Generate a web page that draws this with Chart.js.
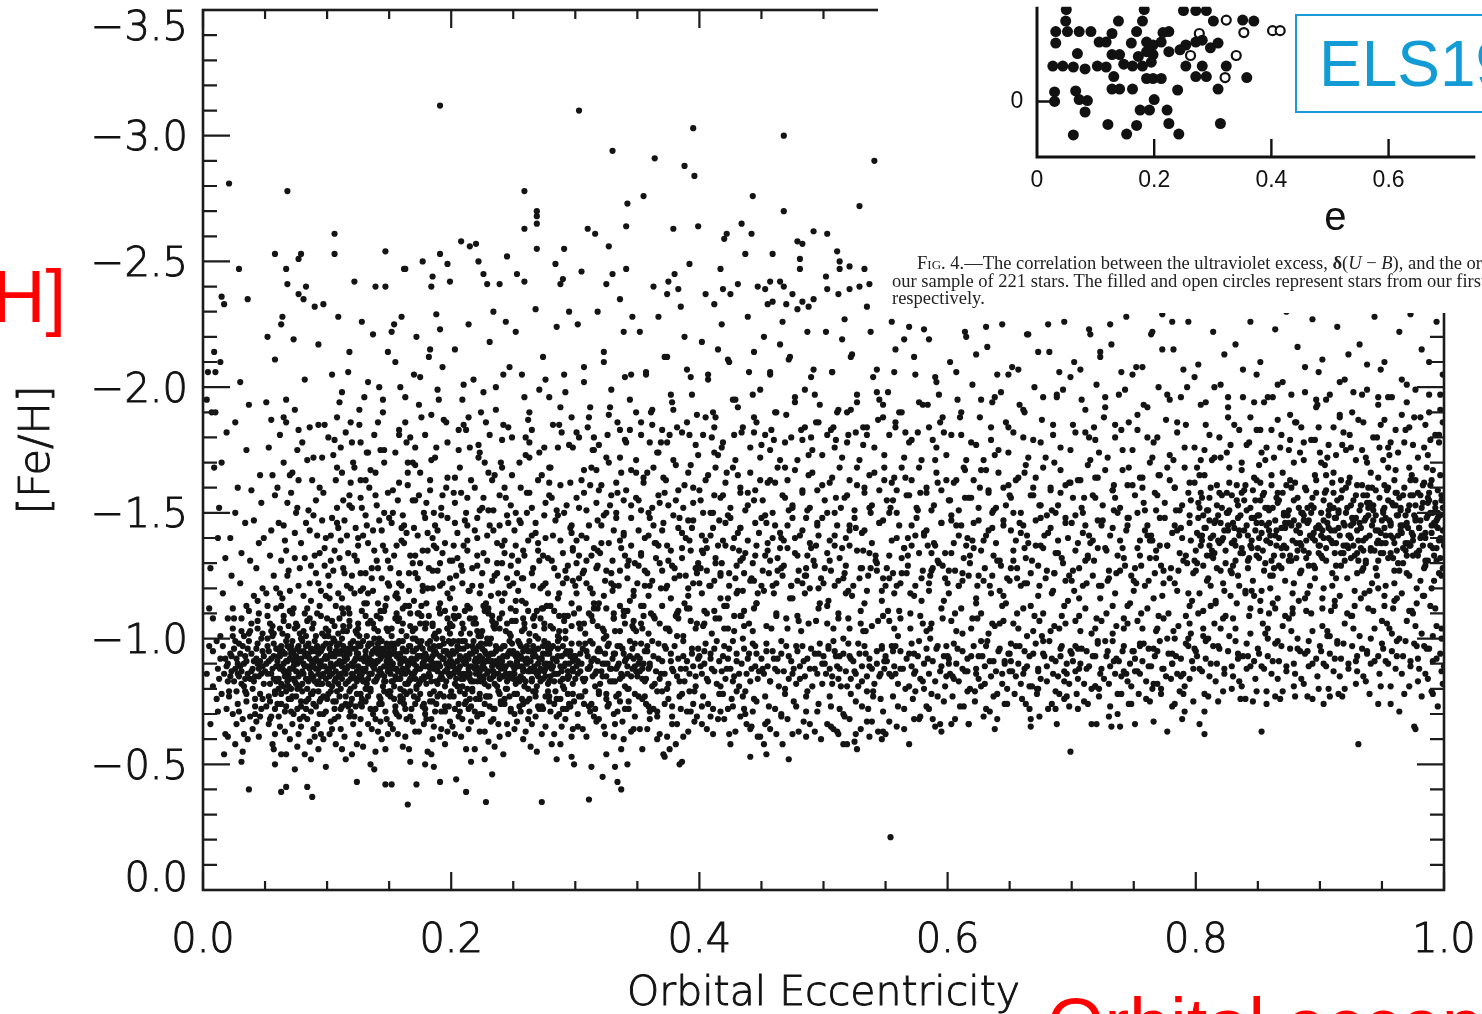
<!DOCTYPE html>
<html>
<head>
<meta charset="utf-8">
<script src="https://cdn.jsdelivr.net/npm/chart.js"></script>
<style>
html, body { margin: 0; padding: 0; background: #fff; }
body { width: 1482px; height: 1014px; overflow: hidden; position: relative; font-family: "Liberation Sans", Arial, sans-serif; }
#main { position: absolute; left: 0; top: 0; }
#inset { position: absolute; left: 878px; top: 0; width: 604px; height: 313px; background: #fff; overflow: hidden; }
#insetChart { position: absolute; left: 0; top: 0; }
.cap { position: absolute; white-space: nowrap; font: 18.5px "Liberation Serif", "Times New Roman", serif; line-height: 18px; color: #222; }
.els { position: absolute; left: 417px; top: 14px; width: 260px; height: 95px; border: 2px solid #1a9ad6; color: #139bd5;
       font: 64px "Liberation Sans", Arial, sans-serif; line-height: 97px; padding-left: 22px; white-space: nowrap; }
.red { position: absolute; color: #ff0000; font: 74px "Liberation Sans", Arial, sans-serif; line-height: 74px; white-space: nowrap; }
</style>
</head>
<body>
<canvas id="main" width="1482" height="1014"></canvas>
<div id="inset">
  <canvas id="insetChart" width="604" height="313"></canvas>
  <div class="els">ELS1962</div>
  <div class="cap" style="left:39px;top:254px">F<span style="font-variant:small-caps">ig</span>. 4.—The correlation between the ultraviolet excess, <b>δ</b>(<i>U</i> − <i>B</i>), and the orbital eccentricity, <i>e</i>, for</div>
  <div class="cap" style="left:14px;top:272px">our sample of 221 stars. The filled and open circles represent stars from our first and second lists,</div>
  <div class="cap" style="left:14px;top:289px">respectively.</div>
</div>
<div class="red" style="right:1416px;top:260px">[Fe/H]</div>
<div class="red" style="left:1047px;top:988px">Orbital eccentricity</div>

<script>
// main sample: [eccentricity x1000, [Fe/H] x100]
const stars = [
// e 0.00-0.05
[21,-281],[15,-236],[17,-233],[36,-235],[29,-247],[9,-214],[4,-206],[10,-206],[14,-210],[30,-202],[3,-195],[7,-190],[10,-190],[26,-186],[37,-40],[17,-54],[31,-51],[32,-55],[18,-62],[20,-61],[36,-60],[45,-61],
[12,-88],[18,-92],[22,-85],[25,-96],[28,-90],[31,-87],[34,-93],[38,-84],[41,-91],[44,-98],[47,-86],[27,-79],[33,-101],[39,-106],[46,-78],[14,-101],[20,-108],[8,-95],[42,-73],[35,-75],[24,-70],[16,-118],[30,-122],[44,-115],[6,-128],[38,-131],[22,-140],[13,-152],[41,-147],[28,-160],[9,-168],[35,-175],[19,-182],[46,-165],[5,-112],[11,-76],[48,-102],[32,-68],[40,-64],[26,-58],[6,-66],[43,-128],[15,-170],[37,-193],[49,-140],[24,-112],[8,-81],
[13,-84],[16,-97],[19,-89],[21,-79],[23,-93],[26,-88],[29,-98],[31,-82],[33,-90],[36,-96],[39,-87],[40,-80],[43,-92],[45,-88],[48,-95],[14,-92],[24,-101],[34,-84],[44,-104],[20,-83],[28,-86],[37,-99],[46,-91],[11,-99],[17,-86],[30,-94],[42,-85],[49,-82],[25,-108],[35,-113],[15,-78],[47,-72],[38,-69],[27,-66],[19,-72],[12,-71],[43,-67],[33,-62],[23,-125],[31,-134],[45,-138],[48,-120],[12,-140],[26,-150],[39,-159],[18,-132],[47,-154],[34,-146],[8,-108],[3,-86],[5,-97],[41,-117],
// e 0.05-0.10
[64,-228],[63,-225],[52,-220],[73,-219],[58,-211],[93,-217],[68,-278],[58,-253],[79,-253],[77,-251],[67,-247],[68,-241],[83,-240],[77,-237],[81,-235],[90,-232],[97,-233],[82,-203],[51,-194],[67,-195],[74,-191],[65,-188],[67,-186],[55,-187],[77,-183],[98,-185],[93,-185],[63,-39],[67,-41],[84,-41],[88,-37],[58,-50],[99,-49],[63,-54],[67,-54],[82,-54],[93,-56],[56,-58],[76,-57],[90,-61],[97,-60],
[52,-86],[55,-92],[57,-98],[59,-83],[61,-89],[62,-95],[64,-102],[66,-87],[68,-91],[70,-84],[71,-97],[73,-89],[75,-93],[76,-80],[78,-86],[80,-99],[81,-90],[83,-84],[85,-94],[86,-88],[88,-78],[90,-91],[91,-101],[93,-86],[95,-95],[96,-82],[98,-89],[53,-77],[60,-74],[69,-76],[79,-73],[87,-71],[94,-75],[56,-105],[65,-109],[74,-104],[84,-107],[92,-110],[99,-104],
[54,-68],[62,-65],[72,-66],[81,-69],[89,-64],[97,-70],[58,-62],[77,-62],[86,-59],
[51,-118],[57,-125],[63,-131],[70,-119],[78,-128],[86,-122],[94,-134],[99,-117],[55,-143],[66,-139],[75,-150],[83,-146],[91,-155],[60,-160],[72,-166],[88,-163],[96,-172],[53,-176],[80,-178],[68,-154],[92,-141],
[51,-90],[53,-95],[54,-82],[56,-88],[57,-93],[58,-79],[60,-91],[61,-84],[63,-97],[64,-88],[65,-81],[66,-94],[67,-99],[69,-86],[70,-92],[71,-80],[72,-88],[73,-95],[74,-83],[76,-90],[77,-97],[78,-81],[79,-92],[80,-87],[82,-94],[83,-101],[84,-89],[85,-83],[87,-96],[88,-91],[89,-85],[90,-99],[91,-88],[92,-82],[93,-94],[94,-90],[95,-85],[97,-97],[98,-92],[99,-84],[52,-100],[55,-103],[59,-96],[62,-104],[68,-101],[75,-106],[81,-103],[86,-108],[91,-95],[96,-102],[54,-75],[58,-72],[63,-78],[67,-73],[71,-76],[76,-72],[80,-79],[85,-76],[89,-74],[93,-79],[97,-77],[53,-66],[61,-69],[66,-63],[73,-70],[79,-65],[84,-68],[92,-66],[95,-62],[57,-56],[70,-60],[87,-52],[74,-48],
[52,-113],[59,-120],[64,-116],[69,-127],[73,-112],[77,-121],[82,-132],[87,-115],[91,-126],[95,-119],[98,-129],[54,-133],[61,-146],[67,-135],[74,-142],[79,-138],[85,-151],[90,-133],[96,-147],[58,-157],[65,-170],[71,-158],[77,-163],[84,-171],[89,-149],[94,-160],[62,-181],[76,-175],[86,-184],[56,-165],[99,-140],
// e 0.10-0.15
[109,-228],[128,-226],[106,-261],[147,-254],[106,-253],[122,-242],[139,-240],[147,-240],[124,-43],[120,-54],[135,-50],[147,-56],[102,-62],[147,-42],
[104,-205],[112,-198],[118,-214],[126,-191],[133,-202],[141,-186],[145,-195],[115,-182],[137,-221],[108,-188],[149,-214],[121,-170],
[101,-125],[104,-148],[107,-163],[110,-132],[113,-155],[116,-141],[119,-120],[122,-168],[125,-137],[128,-152],[131,-126],[134,-160],[137,-143],[140,-131],[143,-175],[146,-150],[149,-122],[111,-176],[127,-178],[139,-166],[118,-157],[132,-145],
[101,-88],[103,-94],[104,-81],[106,-99],[108,-90],[109,-85],[111,-95],[113,-103],[114,-87],[116,-92],[118,-79],[119,-98],[121,-89],[123,-84],[124,-94],[126,-101],[128,-88],[129,-92],[131,-80],[133,-97],[134,-86],[136,-91],[138,-104],[139,-83],[141,-94],[143,-88],[144,-99],[146,-85],[148,-91],[149,-78],[105,-75],[112,-73],[120,-76],[127,-74],[135,-72],[142,-77],[110,-108],[117,-112],[125,-106],[132,-114],[140,-109],[147,-113],[102,-116],[122,-118],[137,-119],
[103,-67],[111,-64],[118,-69],[126,-62],[133,-66],[141,-63],[148,-68],[107,-58],[129,-57],[144,-60],[115,-52],[138,-48],
[100,-92],[102,-85],[103,-98],[105,-89],[106,-83],[107,-95],[108,-79],[110,-91],[111,-86],[112,-100],[114,-93],[115,-82],[116,-88],[117,-96],[119,-84],[120,-90],[121,-99],[122,-81],[124,-87],[125,-94],[126,-85],[127,-97],[129,-83],[130,-91],[131,-88],[132,-101],[134,-92],[135,-80],[136,-86],[137,-95],[139,-90],[140,-84],[141,-98],[142,-87],[144,-93],[145,-81],[146,-96],[147,-89],[149,-94],[101,-103],[104,-107],[109,-102],[113,-110],[118,-105],[123,-103],[128,-111],[133,-106],[138,-100],[143,-108],[148,-104],[101,-78],[106,-72],[110,-77],[115,-74],[119,-71],[124,-78],[128,-73],[133,-77],[137,-70],[142,-74],[146,-79],[104,-64],[109,-69],[114,-61],[121,-66],[127,-68],[136,-64],[143,-67],[149,-62],[112,-56],[124,-58],[139,-55],
[102,-121],[106,-135],[109,-118],[113,-128],[117,-134],[120,-125],[124,-131],[129,-120],[133,-138],[136,-124],[141,-128],[145,-137],[148,-116],[103,-141],[108,-152],[114,-147],[119,-162],[123,-144],[127,-156],[131,-149],[135,-167],[140,-153],[144,-143],[149,-158],[105,-173],[112,-166],[120,-178],[126,-185],[133,-174],[138,-181],[146,-170],[110,-194],[130,-196],[142,-200],[117,-206],[101,-180],
// e 0.15-0.20
[191,-312],[152,-222],[154,-225],[160,-228],[172,-220],[188,-229],[191,-223],[177,-250],[162,-247],[163,-247],[184,-240],[185,-244],[199,-242],[191,-253],[197,-249],[165,-34],[152,-42],[172,-42],[191,-43],[167,-51],[179,-50],[186,-49],
[155,-210],[163,-196],[170,-205],[176,-188],[182,-212],[189,-199],[196,-186],[158,-183],[174,-193],[193,-208],[167,-180],
[151,-128],[153,-150],[156,-137],[158,-162],[160,-121],[162,-145],[165,-170],[167,-133],[169,-155],[171,-126],[173,-141],[175,-166],[177,-121],[179,-148],[181,-135],[183,-159],[185,-127],[187,-172],[189,-143],[191,-130],[193,-157],[195,-138],[197,-164],[199,-124],[164,-178],[186,-150],[157,-116],[176,-113],
[150,-89],[152,-94],[153,-83],[155,-98],[156,-88],[158,-92],[159,-80],[161,-96],[163,-86],[164,-101],[166,-90],[168,-84],[169,-95],[171,-87],[173,-99],[174,-82],[176,-93],[178,-89],[179,-104],[181,-85],[183,-96],[184,-91],[186,-79],[188,-100],[189,-87],[191,-93],[193,-84],[194,-98],[196,-90],[198,-86],[199,-102],[154,-76],[162,-74],[170,-77],[177,-73],[185,-75],[192,-71],[157,-107],[167,-110],[175,-106],[182,-109],[190,-112],[197,-108],[160,-103],[187,-95],[172,-92],[165,-82],
[151,-66],[157,-62],[164,-68],[171,-63],[178,-66],[185,-60],[192,-64],[199,-67],[161,-57],[181,-55],[195,-58],
[150,-93],[151,-86],[152,-98],[153,-90],[154,-81],[155,-94],[157,-87],[158,-99],[159,-84],[160,-91],[161,-88],[162,-79],[163,-95],[165,-89],[166,-83],[167,-97],[168,-92],[170,-86],[171,-100],[172,-81],[173,-93],[175,-88],[176,-84],[177,-96],[178,-91],[180,-82],[181,-98],[182,-89],[183,-85],[185,-93],[186,-88],[187,-102],[188,-83],[190,-90],[191,-97],[192,-86],[193,-92],[195,-81],[196,-95],[197,-88],[198,-99],[199,-91],[152,-104],[156,-110],[161,-106],[166,-113],[171,-104],[176,-109],[180,-114],[185,-106],[190,-103],[195,-111],[199,-106],[151,-77],[155,-71],[159,-75],[164,-78],[168,-72],[173,-76],[179,-70],[183,-78],[188,-74],[194,-77],[198,-73],[153,-64],[158,-69],[163,-61],[169,-67],[174,-63],[180,-68],[186,-65],[191,-61],[197,-63],[166,-56],[184,-54],
[150,-121],[154,-133],[158,-126],[162,-138],[166,-119],[169,-130],[173,-124],[177,-135],[181,-120],[185,-140],[189,-127],[193,-134],[197,-118],[152,-146],[157,-155],[161,-149],[165,-161],[170,-144],[174,-157],[178,-150],[183,-163],[187,-145],[192,-152],[196,-160],[155,-174],[163,-186],[171,-169],[179,-181],[188,-176],[194,-187],[159,-200],[175,-204],[190,-195],[183,-215],
// e 0.20-0.25
[208,-258],[215,-256],[220,-257],[222,-250],[226,-245],[229,-241],[239,-241],[245,-252],[204,-44],[212,-39],[228,-35],[233,-46],[216,-51],[227,-52],
[203,-215],[209,-195],[214,-225],[218,-203],[224,-190],[231,-218],[236,-200],[242,-185],[247,-208],[206,-183],[234,-230],[244,-226],
[201,-131],[203,-154],[205,-142],[207,-168],[209,-122],[211,-147],[213,-135],[215,-176],[217,-128],[219,-160],[221,-140],[223,-118],[225,-152],[227,-170],[229,-131],[231,-145],[233,-163],[235,-125],[237,-138],[239,-157],[241,-179],[243,-134],[245,-149],[247,-121],[249,-165],[212,-183],[228,-186],[238,-118],
[200,-91],[202,-86],[204,-95],[205,-81],[207,-89],[209,-99],[210,-84],[212,-93],[214,-88],[215,-102],[217,-79],[219,-91],[220,-86],[222,-97],[224,-83],[225,-92],[227,-88],[229,-100],[230,-81],[232,-94],[234,-87],[235,-104],[237,-90],[239,-84],[240,-96],[242,-89],[244,-80],[245,-93],[247,-86],[249,-98],[206,-74],[214,-72],[223,-76],[231,-73],[240,-75],[248,-71],[203,-108],[211,-111],[218,-106],[226,-113],[233,-109],[241,-115],[249,-107],
[201,-65],[208,-61],[216,-67],[223,-63],[230,-59],[238,-66],[246,-62],[219,-56],[242,-54],
[200,-86],[201,-95],[202,-90],[203,-82],[205,-97],[206,-88],[207,-93],[208,-84],[210,-91],[211,-99],[212,-86],[213,-80],[215,-94],[216,-89],[217,-97],[218,-83],[220,-92],[221,-88],[222,-101],[223,-85],[225,-96],[226,-90],[227,-82],[228,-94],[230,-87],[231,-98],[232,-84],[233,-91],[235,-86],[236,-95],[237,-81],[238,-89],[240,-92],[241,-85],[242,-97],[243,-88],[245,-83],[246,-94],[247,-90],[248,-101],[249,-86],[201,-105],[206,-109],[210,-104],[215,-112],[220,-106],[225,-103],[230,-110],[234,-105],[239,-108],[244,-103],[248,-112],[202,-77],[207,-71],[211,-78],[216,-73],[220,-76],[225,-70],[229,-77],[234,-72],[238,-79],[243,-74],[247,-77],[203,-62],[209,-68],[214,-64],[221,-69],[227,-63],[232,-67],[239,-61],[245,-66],[212,-56],[235,-57],
[201,-120],[205,-132],[209,-127],[213,-139],[217,-121],[221,-133],[225,-126],[229,-141],[233,-123],[237,-130],[241,-137],[245,-124],[249,-133],[203,-146],[208,-158],[212,-150],[216,-163],[221,-148],[226,-156],[230,-166],[234,-151],[239,-145],[243,-160],[248,-153],[206,-175],[214,-188],[222,-172],[231,-181],[240,-170],[246,-184],[210,-201],[226,-198],[242,-205],
// e 0.25-0.30
[259,-278],[269,-268],[269,-270],[269,-265],[259,-263],[291,-255],[269,-255],[253,-245],[284,-249],[259,-242],[288,-241],[290,-243],[273,-35],[297,-53],[299,-50],
[252,-222],[257,-205],[263,-190],[268,-231],[274,-212],[279,-196],[285,-224],[291,-205],[297,-188],[260,-180],[282,-185],[295,-230],[271,-199],
[251,-143],[253,-126],[256,-160],[258,-135],[261,-150],[263,-172],[266,-121],[268,-146],[271,-131],[273,-165],[276,-140],[278,-118],[281,-156],[283,-128],[286,-176],[288,-139],[291,-150],[293,-124],[296,-162],[298,-135],[265,-183],[289,-182],[274,-112],[260,-114],
[250,-89],[252,-93],[254,-84],[256,-97],[258,-88],[260,-91],[262,-80],[264,-95],[266,-87],[268,-101],[270,-90],[272,-83],[274,-94],[276,-88],[278,-98],[280,-85],[282,-92],[284,-79],[286,-96],[288,-89],[290,-84],[292,-100],[294,-87],[296,-93],[298,-82],[255,-73],[263,-76],[271,-72],[279,-75],[287,-70],[295,-74],[259,-106],[267,-109],[275,-104],[283,-111],[291,-107],[299,-110],
[251,-64],[258,-60],[265,-66],[273,-62],[281,-58],[289,-65],[297,-61],[269,-55],[285,-52],
[250,-94],[251,-86],[253,-91],[254,-99],[255,-83],[257,-89],[258,-95],[259,-81],[261,-92],[262,-87],[263,-99],[265,-84],[266,-93],[267,-89],[269,-81],[270,-96],[271,-87],[273,-92],[274,-84],[275,-99],[277,-90],[278,-82],[279,-94],[281,-88],[282,-97],[283,-83],[285,-91],[286,-86],[287,-100],[289,-93],[290,-81],[291,-89],[293,-95],[294,-84],[295,-90],[297,-98],[298,-87],[299,-93],[252,-107],[257,-103],[262,-111],[267,-105],[272,-108],[277,-113],[282,-104],[287,-109],[292,-103],[297,-114],[251,-78],[256,-71],[261,-75],[266,-79],[270,-73],[276,-77],[280,-71],[285,-76],[290,-72],[294,-78],[299,-75],[253,-67],[260,-63],[268,-69],[276,-65],[283,-62],[292,-68],[298,-64],[264,-57],[288,-58],
[250,-122],[254,-131],[258,-124],[262,-139],[266,-128],[270,-135],[274,-121],[278,-132],[282,-141],[286,-125],[290,-134],[294,-129],[298,-123],[252,-150],[256,-146],[261,-158],[265,-152],[270,-163],[275,-149],[279,-157],[284,-147],[288,-161],[293,-153],[297,-145],[255,-170],[263,-178],[271,-174],[280,-168],[287,-185],[295,-177],[259,-196],[276,-203],[292,-198],
// e 0.30-0.35
[303,-310],[330,-294],[327,-256],[310,-263],[316,-261],[341,-264],[342,-273],[330,-245],[341,-247],[305,-246],[325,-241],[311,-36],[322,-45],[334,-43],[337,-40],[332,-49],[342,-50],[313,-49],[325,-54],[337,-56],
[302,-225],[307,-208],[312,-192],[318,-230],[323,-214],[329,-199],[334,-186],[339,-222],[345,-205],[349,-190],[315,-180],[336,-235],[346,-228],
[301,-130],[303,-152],[305,-141],[307,-167],[309,-122],[311,-145],[313,-133],[315,-175],[317,-128],[319,-159],[321,-138],[323,-117],[325,-150],[327,-170],[329,-126],[331,-143],[333,-162],[335,-121],[337,-136],[339,-155],[341,-178],[343,-131],[345,-148],[347,-119],[349,-166],[310,-184],[326,-181],[344,-183],[318,-112],[336,-113],
[301,-89],[304,-94],[306,-84],[308,-98],[311,-88],[313,-91],[316,-81],[318,-95],[321,-87],[323,-100],[326,-90],[328,-83],[331,-94],[333,-88],[336,-97],[338,-85],[341,-92],[343,-80],[346,-96],[348,-89],[307,-74],[316,-72],[325,-76],[334,-71],[343,-75],[303,-106],[313,-109],[322,-104],[331,-110],[340,-106],[349,-103],
[302,-65],[309,-61],[317,-67],[324,-62],[332,-66],[339,-60],[347,-64],
[300,-93],[302,-86],[303,-98],[305,-90],[307,-83],[309,-95],[310,-88],[312,-99],[314,-85],[315,-92],[317,-87],[319,-96],[320,-82],[322,-90],[324,-94],[325,-85],[327,-98],[329,-88],[330,-92],[332,-83],[334,-97],[335,-90],[337,-86],[339,-94],[340,-81],[342,-89],[344,-99],[345,-85],[347,-92],[349,-87],[304,-104],[311,-110],[318,-105],[325,-112],[332,-103],[339,-109],[346,-105],[305,-77],[312,-71],[319,-78],[326,-73],[333,-77],[340,-72],[348,-78],[306,-64],[315,-69],[323,-65],[331,-61],[338,-67],[345,-63],
[300,-121],[303,-133],[306,-126],[309,-140],[312,-120],[315,-136],[318,-129],[321,-145],[324,-123],[327,-138],[330,-131],[333,-148],[336,-127],[339,-142],[342,-124],[345,-137],[348,-130],[301,-156],[305,-163],[309,-151],[313,-168],[317,-154],[321,-161],[325,-172],[329,-157],[333,-150],[337,-166],[341,-159],[345,-153],[349,-171],[303,-180],[311,-188],[319,-177],[328,-192],[336,-183],[344,-195],[307,-202],[323,-210],[340,-204],
// e 0.35-0.40
[364,-291],[388,-288],[396,-284],[395,-303],[355,-276],[379,-263],[399,-264],[392,-249],[363,-240],[374,-237],[375,-242],[380,-245],[383,-239],[386,-51],[372,-53],[376,-56],[366,-60],[354,-56],[371,-54],[384,-50],
[352,-222],[357,-206],[362,-191],[367,-228],[372,-212],[377,-197],[382,-184],[388,-220],[393,-204],[398,-189],[360,-178],[385,-232],[370,-183],
[351,-129],[353,-151],[356,-140],[358,-166],[360,-121],[363,-145],[365,-132],[367,-174],[370,-127],[372,-158],[374,-137],[377,-116],[379,-149],[381,-169],[384,-125],[386,-142],[388,-161],[391,-120],[393,-135],[395,-154],[397,-177],[399,-130],[362,-185],[376,-181],[390,-186],[355,-113],[382,-110],[368,-154],[394,-144],
[351,-90],[354,-84],[356,-95],[359,-88],[362,-99],[364,-82],[367,-92],[369,-86],[372,-97],[374,-80],[377,-91],[379,-87],[382,-101],[384,-83],[387,-93],[389,-88],[392,-79],[394,-96],[397,-85],[399,-92],[357,-74],[366,-71],[375,-76],[385,-72],[395,-74],[353,-106],[363,-109],[373,-104],[383,-111],[393,-107],
[352,-64],[360,-68],[368,-62],[378,-66],[387,-61],[396,-67],[381,-58],
[350,-93],[352,-87],[353,-98],[355,-90],[357,-84],[358,-95],[360,-89],[362,-81],[363,-93],[365,-87],[367,-98],[368,-84],[370,-91],[372,-86],[373,-96],[375,-82],[377,-94],[378,-88],[380,-97],[382,-85],[383,-92],[385,-88],[387,-99],[388,-83],[390,-91],[392,-86],[394,-94],[395,-89],[397,-81],[399,-96],[354,-104],[361,-110],[368,-106],[376,-103],[383,-108],[390,-112],[397,-104],[356,-77],[363,-72],[370,-79],[378,-73],[386,-78],[393,-71],[358,-64],[366,-69],[374,-61],[382,-66],[391,-63],[398,-69],
[350,-122],[353,-134],[356,-127],[359,-141],[362,-123],[365,-138],[368,-130],[371,-146],[374,-121],[377,-135],[380,-128],[383,-144],[386,-132],[389,-125],[392,-139],[395,-147],[398,-126],[351,-155],[355,-162],[359,-150],[363,-168],[367,-157],[371,-164],[375,-153],[379,-171],[383,-159],[387,-152],[391,-166],[395,-160],[399,-173],[353,-181],[361,-190],[369,-178],[378,-194],[386,-182],[394,-197],[357,-205],[374,-212],[390,-207],
// e 0.40-0.45
[405,-237],[412,-233],[419,-239],[425,-237],[417,-247],[422,-261],[420,-259],[434,-265],[442,-261],[443,-276],[437,-253],[447,-240],[441,-53],[452,-58],[441,-64],[449,-61],
[402,-218],[407,-203],[413,-188],[418,-225],[424,-210],[429,-195],[434,-182],[439,-228],[444,-214],[449,-199],[410,-180],[431,-241],[446,-186],
[401,-128],[403,-150],[405,-139],[407,-165],[409,-121],[411,-144],[413,-132],[415,-173],[417,-126],[419,-157],[421,-137],[423,-116],[425,-148],[427,-168],[429,-124],[431,-142],[433,-160],[435,-119],[437,-134],[439,-153],[441,-176],[443,-130],[445,-146],[447,-118],[449,-163],[412,-184],[428,-181],[444,-188],[406,-110],[420,-113],[436,-111],[416,-147],[432,-135],
[401,-89],[404,-95],[406,-84],[409,-92],[412,-87],[414,-99],[417,-81],[419,-93],[422,-88],[424,-96],[427,-83],[430,-91],[432,-86],[435,-100],[437,-79],[440,-94],[442,-88],[445,-97],[447,-84],[407,-74],[417,-71],[426,-76],[436,-72],[446,-75],[403,-105],[413,-108],[423,-104],[433,-109],[443,-103],
[402,-66],[411,-62],[420,-68],[429,-63],[438,-66],[447,-61],[425,-58],
[400,-93],[402,-86],[404,-90],[405,-98],[407,-83],[409,-94],[410,-88],[412,-96],[414,-82],[416,-91],[418,-87],[420,-97],[421,-84],[423,-92],[425,-88],[427,-99],[428,-85],[430,-94],[432,-81],[434,-90],[436,-96],[438,-86],[439,-92],[441,-83],[443,-98],[445,-89],[446,-94],[448,-87],[404,-106],[412,-111],[420,-104],[428,-109],[436,-105],[444,-112],[403,-77],[411,-72],[419,-78],[427,-73],[435,-77],[443,-71],[406,-64],[415,-68],[424,-62],[433,-69],[442,-65],
[400,-122],[403,-134],[406,-127],[409,-141],[412,-123],[415,-137],[418,-130],[421,-146],[424,-121],[427,-136],[430,-129],[433,-144],[436,-126],[439,-139],[442,-124],[445,-133],[448,-142],[401,-155],[405,-163],[409,-150],[413,-168],[417,-156],[421,-162],[425,-152],[429,-171],[433,-158],[437,-151],[441,-166],[445,-159],[449,-172],[403,-181],[411,-190],[419,-178],[427,-195],[435,-184],[443,-197],[407,-205],[423,-211],[440,-206],[415,-215],
// e 0.45-0.50
[468,-300],[468,-270],[492,-262],[479,-258],[483,-257],[459,-253],[481,-251],[481,-247],[483,-234],[492,-235],[479,-231],[488,-232],[459,-234],[470,-233],[455,-233],[465,-242],[468,-240],[457,-242],[453,-239],[472,-52],[454,-54],[486,-61],[455,-67],
[452,-220],[457,-205],[462,-190],[467,-226],[472,-211],[477,-196],[482,-183],[487,-222],[492,-207],[497,-193],[460,-179],[475,-237],[490,-180],[485,-199],
[451,-127],[453,-149],[455,-138],[457,-163],[459,-121],[461,-145],[463,-132],[465,-171],[467,-125],[469,-156],[471,-136],[473,-116],[475,-148],[477,-167],[479,-123],[481,-141],[483,-159],[485,-118],[487,-133],[489,-152],[491,-175],[493,-129],[495,-145],[497,-114],[499,-161],[458,-183],[474,-180],[494,-186],[462,-109],[480,-107],[466,-140],[486,-128],
[451,-88],[454,-95],[457,-83],[460,-92],[463,-87],[466,-99],[469,-80],[472,-93],[475,-86],[478,-97],[481,-84],[484,-91],[487,-79],[490,-96],[493,-88],[496,-94],[499,-82],[456,-73],[466,-70],[476,-75],[486,-71],[496,-74],[458,-104],[470,-108],[482,-103],[494,-107],
[453,-66],[462,-62],[471,-68],[480,-63],[489,-66],[498,-60],[467,-58],
[450,-92],[452,-86],[454,-98],[455,-89],[457,-83],[459,-95],[461,-88],[463,-92],[464,-81],[466,-94],[468,-87],[470,-97],[472,-84],[474,-91],[476,-88],[478,-82],[479,-95],[481,-89],[483,-97],[485,-85],[487,-92],[489,-88],[491,-81],[493,-94],[495,-86],[497,-98],[499,-90],[454,-105],[462,-110],[471,-104],[479,-109],[488,-106],[496,-112],[453,-77],[461,-72],[469,-78],[478,-73],[486,-77],[495,-71],[457,-64],[466,-69],[475,-62],[484,-67],[493,-63],
[450,-121],[453,-133],[456,-126],[459,-140],[462,-122],[465,-136],[468,-129],[471,-145],[474,-121],[477,-134],[480,-127],[483,-143],[486,-125],[489,-138],[492,-131],[495,-146],[498,-124],[451,-155],[455,-162],[459,-150],[463,-168],[467,-157],[471,-163],[475,-152],[479,-171],[483,-158],[487,-151],[491,-166],[495,-159],[499,-173],[453,-181],[461,-190],[469,-178],[477,-194],[485,-184],[493,-197],[457,-206],[473,-212],[490,-204],[465,-217],
// e 0.50-0.55
[502,-244],[503,-239],[512,-237],[521,-239],[529,-240],[537,-241],[503,-261],[511,-254],[513,-250],[513,-247],[521,-248],[533,-247],[541,-290],[529,-272],[525,-59],[519,-58],[537,-61],[547,-60],[550,-62],[511,-63],[506,-65],
[502,-222],[507,-206],[512,-191],[517,-227],[522,-212],[527,-197],[532,-184],[538,-222],[543,-207],[548,-193],[510,-179],[535,-232],[520,-181],
[501,-128],[503,-150],[505,-139],[507,-164],[509,-121],[511,-145],[513,-132],[515,-172],[517,-126],[519,-157],[521,-137],[523,-117],[525,-148],[527,-168],[529,-124],[531,-142],[533,-160],[535,-119],[537,-134],[539,-153],[541,-176],[543,-130],[545,-146],[547,-115],[549,-163],[508,-184],[526,-182],[544,-187],[512,-108],[530,-106],[518,-140],[538,-128],
[501,-90],[504,-96],[507,-85],[510,-93],[513,-88],[516,-100],[519,-81],[522,-92],[525,-87],[528,-98],[531,-83],[534,-94],[537,-89],[540,-79],[543,-95],[546,-86],[549,-91],[506,-73],[516,-70],[526,-75],[536,-72],[546,-76],[508,-104],[520,-108],[532,-103],[544,-107],
[503,-66],[512,-62],[521,-68],[530,-64],[539,-67],[548,-63],[516,-58],
[500,-93],[502,-86],[504,-97],[505,-88],[507,-82],[509,-95],[511,-89],[513,-93],[514,-81],[516,-94],[518,-87],[520,-98],[522,-84],[524,-91],[526,-86],[528,-81],[529,-94],[531,-89],[533,-97],[535,-85],[537,-92],[539,-88],[541,-82],[543,-90],[545,-85],[547,-97],[549,-88],[503,-106],[512,-110],[521,-104],[530,-111],[539,-105],[548,-109],[505,-77],[513,-72],[522,-78],[531,-73],[540,-77],[548,-71],[508,-64],[517,-69],[526,-62],[535,-67],[544,-63],[527,-56],
[500,-122],[503,-134],[506,-127],[509,-141],[512,-123],[515,-136],[518,-129],[521,-145],[524,-121],[527,-135],[530,-128],[533,-143],[536,-125],[539,-138],[542,-131],[545,-146],[548,-124],[501,-155],[505,-162],[509,-150],[513,-168],[517,-156],[521,-163],[525,-151],[529,-171],[533,-158],[537,-152],[541,-166],[545,-159],[549,-173],[503,-181],[511,-190],[519,-178],[527,-194],[535,-184],[543,-198],[507,-206],[523,-213],[540,-204],[515,-219],
// e 0.55-0.60
[554,-21],[569,-58],[573,-68],[588,-68],[594,-66],
[552,-198],[558,-215],[563,-190],[569,-224],[574,-205],[580,-193],[585,-219],[591,-202],[596,-188],[566,-182],[588,-179],[555,-226],
[551,-128],[553,-150],[555,-139],[557,-164],[559,-121],[561,-145],[563,-132],[565,-172],[567,-126],[569,-157],[571,-137],[573,-117],[575,-148],[577,-168],[579,-124],[581,-142],[583,-160],[585,-119],[587,-134],[589,-153],[591,-176],[593,-130],[595,-146],[597,-115],[599,-163],[558,-184],[576,-182],[594,-186],[562,-108],[580,-106],[568,-140],[588,-128],[556,-155],[584,-137],
[551,-91],[555,-85],[558,-97],[562,-88],[566,-80],[569,-94],[573,-86],[577,-99],[580,-83],[584,-92],[587,-78],[591,-96],[594,-87],[598,-81],[560,-73],[572,-76],[585,-72],[597,-75],[557,-104],[570,-110],[583,-103],[596,-108],
[553,-67],[565,-64],[578,-69],[590,-65],
[550,-93],[553,-86],[555,-97],[557,-89],[560,-82],[562,-95],[564,-88],[567,-92],[569,-81],[571,-98],[574,-87],[576,-93],[578,-84],[581,-90],[583,-96],[585,-86],[588,-91],[590,-83],[592,-97],[595,-89],[597,-93],[599,-85],[553,-107],[561,-111],[570,-104],[578,-109],[587,-106],[595,-112],[556,-77],[565,-72],[574,-79],[583,-73],[592,-77],[559,-65],[577,-68],[595,-63],
[550,-121],[553,-133],[556,-126],[559,-140],[562,-122],[565,-136],[568,-129],[571,-145],[574,-121],[577,-134],[580,-127],[583,-143],[586,-125],[589,-138],[592,-131],[595,-146],[598,-124],[551,-155],[555,-162],[559,-150],[563,-168],[567,-157],[571,-163],[575,-152],[579,-171],[583,-158],[587,-151],[591,-166],[595,-159],[599,-173],[553,-181],[561,-190],[569,-178],[577,-194],[585,-184],[593,-197],[557,-206],[573,-212],[590,-204],[565,-219],[581,-223],
// e 0.60-0.65
[603,-66],[617,-66],[640,-68],
[602,-210],[608,-195],[614,-222],[620,-201],[626,-188],[632,-216],[638,-196],[644,-225],[649,-205],[611,-181],[635,-179],[647,-186],
[601,-127],[603,-149],[605,-138],[607,-163],[609,-121],[611,-145],[613,-132],[615,-171],[617,-125],[619,-156],[621,-136],[623,-116],[625,-147],[627,-167],[629,-123],[631,-141],[633,-159],[635,-118],[637,-133],[639,-152],[641,-175],[643,-129],[645,-145],[647,-114],[649,-161],[606,-110],[624,-108],[642,-106],[616,-140],[636,-150],
[601,-90],[605,-84],[608,-96],[612,-88],[616,-79],[619,-93],[623,-86],[627,-99],[630,-82],[634,-91],[637,-77],[641,-95],[644,-86],[648,-80],[610,-73],[622,-75],[634,-71],[646,-74],[607,-103],[620,-108],[633,-102],[645,-107],
[606,-68],[629,-69],
[600,-93],[602,-86],[605,-98],[607,-90],[609,-83],[612,-95],[614,-87],[616,-92],[618,-80],[621,-97],[623,-88],[625,-84],[628,-93],[630,-89],[632,-99],[635,-85],[637,-91],[639,-87],[642,-96],[644,-82],[646,-90],[649,-94],[603,-107],[611,-112],[619,-104],[627,-110],[636,-106],[644,-113],[604,-77],[613,-73],[622,-79],[631,-72],[640,-78],[648,-74],[617,-66],[638,-64],
[600,-122],[603,-134],[606,-127],[609,-141],[612,-123],[615,-137],[618,-130],[621,-146],[624,-121],[627,-135],[630,-128],[633,-143],[636,-125],[639,-138],[642,-131],[645,-147],[648,-124],[601,-155],[605,-162],[609,-151],[613,-168],[617,-156],[621,-163],[625,-152],[629,-171],[633,-158],[637,-151],[641,-166],[645,-160],[649,-174],[603,-181],[611,-190],[619,-178],[627,-195],[635,-184],[643,-198],[607,-206],[623,-213],[640,-205],[615,-220],[631,-224],
// e 0.65-0.70
[667,-68],[674,-69],[666,-72],[687,-72],[694,-76],[699,-55],
[652,-208],[658,-193],[664,-221],[670,-200],[676,-187],[682,-214],[688,-197],[694,-226],[699,-204],[661,-180],[685,-181],
[651,-128],[653,-150],[655,-139],[657,-164],[659,-121],[661,-145],[663,-132],[665,-172],[667,-126],[669,-157],[671,-137],[673,-117],[675,-148],[677,-168],[679,-124],[681,-142],[683,-160],[685,-119],[687,-134],[689,-153],[691,-176],[693,-130],[695,-146],[697,-115],[699,-162],[656,-110],[674,-107],[692,-109],[664,-141],[684,-151],
[651,-91],[655,-85],[658,-97],[662,-88],[666,-81],[669,-94],[673,-87],[677,-99],[680,-83],[684,-92],[687,-79],[691,-96],[694,-87],[698,-82],[660,-76],[672,-78],[684,-74],[696,-77],[657,-104],[670,-109],[683,-103],[695,-106],
[650,-94],[652,-87],[655,-97],[657,-90],[659,-82],[662,-95],[664,-89],[666,-93],[668,-81],[671,-98],[673,-88],[675,-84],[678,-93],[680,-89],[682,-99],[685,-86],[687,-91],[689,-85],[692,-97],[694,-83],[696,-90],[699,-95],[653,-106],[661,-112],[669,-103],[677,-110],[686,-105],[694,-113],[654,-78],[663,-74],[672,-80],[681,-72],[690,-78],[698,-73],[667,-65],[688,-66],
[650,-123],[653,-135],[656,-128],[659,-142],[662,-122],[665,-138],[668,-131],[671,-147],[674,-121],[677,-136],[680,-127],[683,-144],[686,-126],[689,-139],[692,-132],[695,-148],[698,-125],[651,-156],[655,-163],[659,-150],[663,-169],[667,-157],[671,-164],[675,-153],[679,-172],[683,-159],[687,-150],[691,-167],[695,-161],[699,-175],[653,-182],[661,-191],[669,-179],[677,-196],[685,-185],[693,-199],[657,-207],[673,-214],[690,-206],[665,-221],[681,-225],
// e 0.70-0.75
[705,-72],[720,-66],[732,-65],[730,-69],[737,-70],
[702,-210],[708,-195],[714,-223],[720,-201],[726,-188],[732,-217],[738,-197],[744,-228],[749,-205],[711,-182],[735,-180],[723,-212],
[701,-127],[703,-149],[705,-138],[707,-163],[709,-121],[711,-145],[713,-132],[715,-171],[717,-125],[719,-156],[721,-136],[723,-116],[725,-147],[727,-167],[729,-123],[731,-141],[733,-159],[735,-118],[737,-133],[739,-152],[741,-175],[743,-129],[745,-145],[747,-114],[749,-161],[706,-109],[724,-107],[742,-108],[714,-141],[734,-151],[718,-184],[746,-186],
[701,-91],[705,-84],[708,-96],[712,-88],[716,-80],[719,-93],[723,-86],[727,-99],[730,-82],[734,-91],[737,-78],[741,-95],[744,-86],[748,-81],[710,-75],[722,-77],[746,-74],[707,-103],[720,-108],[733,-102],[745,-106],
[700,-94],[703,-87],[705,-96],[707,-90],[710,-82],[712,-95],[714,-89],[717,-93],[719,-81],[721,-98],[724,-88],[726,-84],[728,-93],[731,-89],[733,-99],[735,-86],[738,-91],[740,-85],[742,-97],[745,-83],[747,-90],[749,-95],[703,-107],[711,-112],[719,-104],[728,-110],[736,-105],[745,-113],[704,-78],[713,-74],[722,-80],[731,-73],[740,-78],[748,-74],[716,-66],[739,-65],
[700,-123],[703,-135],[706,-128],[709,-142],[712,-122],[715,-138],[718,-131],[721,-147],[724,-121],[727,-136],[730,-127],[733,-144],[736,-126],[739,-139],[742,-132],[745,-148],[748,-125],[701,-156],[705,-163],[709,-150],[713,-169],[717,-157],[721,-164],[725,-153],[729,-172],[733,-159],[737,-150],[741,-167],[745,-161],[749,-175],[703,-182],[711,-191],[719,-179],[727,-196],[735,-185],[743,-199],[707,-207],[723,-214],[740,-206],[715,-221],[731,-225],
// e 0.75-0.80
[751,-66],[777,-63],[791,-71],[791,-81],
[752,-208],[758,-193],[764,-221],[770,-200],[776,-187],[782,-215],[788,-196],[794,-226],[799,-204],[761,-180],[785,-182],[773,-229],
[751,-128],[753,-150],[755,-139],[757,-164],[759,-121],[761,-145],[763,-132],[765,-172],[767,-126],[769,-157],[771,-137],[773,-117],[775,-148],[777,-168],[779,-124],[781,-142],[783,-160],[785,-119],[787,-134],[789,-153],[791,-176],[793,-130],[795,-146],[797,-115],[799,-162],[756,-110],[774,-108],[792,-109],[764,-141],[784,-151],[768,-135],[796,-139],
[751,-92],[755,-86],[758,-98],[762,-89],[766,-82],[769,-95],[773,-88],[777,-100],[780,-84],[784,-93],[787,-79],[794,-97],[798,-88],[760,-76],[772,-78],[783,-74],[757,-104],[770,-109],[782,-103],[795,-106],
[750,-95],[753,-87],[755,-97],[757,-91],[760,-83],[762,-96],[764,-89],[767,-93],[769,-82],[771,-99],[774,-88],[776,-85],[778,-94],[781,-90],[783,-100],[785,-86],[788,-92],[790,-86],[792,-98],[795,-84],[797,-91],[799,-96],[753,-107],[761,-112],[769,-104],[778,-110],[786,-105],[795,-113],[754,-78],[763,-75],[772,-80],[781,-73],[790,-78],[798,-75],[766,-67],[789,-68],
[750,-123],[753,-136],[756,-129],[759,-143],[762,-123],[765,-139],[768,-132],[771,-148],[774,-122],[777,-137],[780,-128],[783,-145],[786,-127],[789,-140],[792,-133],[795,-149],[798,-126],[751,-157],[755,-164],[759,-151],[763,-170],[767,-158],[771,-165],[775,-154],[779,-173],[783,-160],[787,-151],[791,-168],[795,-162],[799,-176],[753,-183],[761,-192],[769,-180],[777,-197],[785,-186],[793,-200],[757,-208],[773,-215],[790,-207],[765,-222],[781,-226],
// e 0.80-0.85
[807,-62],[803,-66],[807,-71],[836,-76],
[802,-209],[808,-194],[814,-222],[820,-201],[826,-188],[832,-217],[838,-196],[844,-226],[849,-205],[811,-181],[835,-183],[823,-213],
[801,-130],[803,-152],[805,-141],[807,-165],[809,-123],[811,-147],[813,-135],[815,-172],[817,-128],[819,-158],[821,-139],[823,-119],[825,-150],[827,-168],[829,-126],[831,-144],[833,-161],[835,-121],[837,-136],[839,-155],[841,-177],[843,-132],[845,-148],[847,-117],[849,-163],[804,-158],[812,-140],[818,-149],[826,-143],[834,-153],[842,-141],[848,-155],[806,-111],[824,-109],[844,-112],
[801,-93],[805,-87],[808,-99],[812,-90],[816,-83],[819,-96],[823,-88],[827,-101],[830,-85],[834,-94],[837,-81],[841,-98],[844,-89],[848,-84],[810,-77],[822,-79],[846,-75],[815,-106],[832,-104],
[800,-135],[802,-148],[803,-141],[805,-156],[806,-129],[808,-144],[809,-151],[811,-137],[812,-160],[814,-132],[815,-146],[817,-153],[818,-139],[820,-127],[821,-157],[823,-143],[824,-135],[826,-150],[827,-162],[829,-138],[830,-146],[832,-131],[833,-155],[835,-141],[836,-149],[838,-134],[839,-159],[841,-145],[842,-128],[844,-152],[845,-139],[847,-164],[848,-143],[849,-133],[801,-168],[807,-175],[813,-171],[819,-180],[825,-174],[831,-185],[837,-170],[843,-178],[849,-183],[803,-118],[810,-124],[816,-115],[822,-122],[828,-117],[834,-125],[840,-119],[846,-123],[804,-193],[815,-200],[826,-196],[838,-207],[847,-194],
[800,-95],[803,-88],[806,-101],[808,-92],[811,-85],[814,-97],[817,-90],[820,-104],[823,-86],[826,-95],[829,-89],[832,-99],[835,-83],[838,-93],[841,-88],[844,-102],[847,-91],[802,-110],[812,-113],[822,-108],[833,-114],[843,-109],[807,-78],[818,-75],[829,-80],[840,-76],[849,-79],
// e 0.85-0.90
[853,-63],[857,-74],[864,-77],[880,-77],[894,-76],
[852,-210],[858,-196],[864,-223],[870,-202],[876,-189],[882,-216],[888,-198],[894,-227],[899,-206],[861,-183],[885,-184],[873,-230],[897,-192],
[851,-132],[853,-146],[855,-158],[857,-139],[859,-151],[861,-165],[863,-128],[865,-143],[867,-155],[869,-136],[871,-149],[873,-161],[875,-131],[877,-145],[879,-170],[881,-138],[883,-152],[885,-127],[887,-147],[889,-159],[891,-134],[893,-150],[895,-142],[897,-163],[899,-137],[856,-171],[868,-176],[884,-174],[896,-179],[860,-120],[878,-118],[892,-121],[866,-187],[852,-115],
[851,-94],[855,-88],[858,-100],[862,-91],[866,-84],[869,-97],[873,-89],[877,-103],[880,-86],[884,-95],[887,-82],[891,-99],[894,-90],[898,-85],[859,-110],[875,-108],[889,-111],[870,-79],
[850,-136],[851,-149],[853,-142],[854,-157],[856,-130],[857,-145],[858,-152],[860,-138],[861,-161],[863,-133],[864,-147],[866,-154],[867,-140],[869,-128],[870,-158],[872,-144],[873,-136],[875,-151],[876,-163],[878,-139],[879,-147],[881,-132],[882,-156],[884,-142],[885,-150],[887,-135],[888,-160],[890,-146],[891,-129],[893,-153],[894,-140],[896,-165],[897,-144],[899,-134],[852,-155],[859,-143],[865,-137],[871,-150],[877,-131],[883,-145],[889,-139],[895,-152],[851,-169],[857,-176],[863,-172],[869,-181],[875,-175],[881,-186],[887,-171],[893,-179],[899,-184],[853,-119],[860,-125],[866,-116],[872,-123],[878,-112],[884,-126],[890,-118],[896,-124],[855,-194],[866,-201],[877,-197],[888,-208],[897,-195],
[850,-96],[853,-89],[856,-102],[858,-93],[861,-86],[864,-98],[867,-91],[870,-105],[873,-87],[876,-96],[879,-90],[882,-100],[885,-84],[888,-94],[891,-89],[894,-103],[897,-92],[852,-111],[862,-114],[872,-109],[883,-115],[893,-110],[857,-79],[868,-76],[879,-81],[890,-77],[899,-80],
// e 0.90-0.95
[903,-74],[908,-77],[915,-78],[931,-58],[947,-74],
[902,-211],[908,-197],[914,-224],[920,-203],[926,-190],[932,-217],[938,-199],[944,-228],[949,-207],[911,-184],[935,-186],[923,-213],[947,-193],
[901,-133],[903,-147],[905,-159],[907,-140],[909,-152],[911,-166],[913,-129],[915,-144],[917,-156],[919,-137],[921,-150],[923,-162],[925,-132],[927,-146],[929,-171],[931,-139],[933,-153],[935,-128],[937,-148],[939,-160],[941,-135],[943,-151],[945,-143],[947,-164],[949,-138],[906,-172],[918,-177],[934,-175],[946,-180],[910,-121],[928,-119],[942,-122],[916,-188],[902,-116],[924,-141],[938,-157],[912,-148],[930,-134],
[901,-95],[905,-89],[908,-101],[912,-92],[916,-85],[919,-98],[923,-90],[927,-104],[930,-87],[934,-96],[937,-83],[941,-100],[944,-91],[948,-86],[909,-111],[925,-109],[939,-112],[920,-80],
[900,-137],[901,-150],[902,-143],[904,-158],[905,-131],[906,-146],[908,-153],[909,-139],[910,-162],[912,-134],[913,-148],[914,-155],[916,-141],[917,-129],[918,-159],[920,-145],[921,-137],[922,-152],[924,-164],[925,-140],[926,-148],[928,-133],[929,-157],[930,-143],[932,-151],[933,-136],[934,-161],[936,-147],[937,-130],[938,-154],[940,-141],[941,-166],[942,-145],[944,-135],[945,-149],[946,-138],[948,-156],[949,-142],[903,-140],[911,-152],[919,-134],[927,-147],[935,-139],[943,-153],[907,-144],[923,-136],[939,-149],[947,-131],[901,-170],[907,-177],[913,-173],[919,-182],[925,-176],[931,-187],[937,-172],[943,-180],[949,-185],[903,-120],[910,-126],[916,-117],[922,-124],[928,-113],[934,-127],[940,-119],[946,-125],[905,-195],[916,-202],[927,-198],[938,-209],[947,-196],
[900,-97],[903,-90],[906,-103],[908,-94],[911,-87],[914,-99],[917,-92],[920,-106],[923,-88],[926,-97],[929,-91],[932,-101],[935,-85],[938,-95],[941,-90],[944,-104],[947,-93],[902,-112],[912,-115],[922,-110],[933,-116],[943,-111],[907,-80],[918,-77],[929,-82],[940,-78],[949,-81],
// e 0.95-1.00
[957,-74],[964,-71],[976,-65],[977,-64],[982,-77],[991,-78],[995,-73],[1000,-89],
[952,-210],[958,-196],[964,-222],[970,-201],[976,-188],[982,-215],[988,-197],[994,-226],[999,-205],[961,-183],[985,-185],[973,-229],[997,-191],
[951,-134],[953,-148],[955,-160],[957,-141],[959,-153],[961,-167],[963,-130],[965,-145],[967,-157],[969,-138],[971,-151],[973,-163],[975,-133],[977,-147],[979,-172],[981,-140],[983,-154],[985,-129],[987,-149],[989,-161],[991,-136],[993,-152],[995,-144],[997,-165],[999,-139],[956,-173],[968,-178],[984,-176],[996,-181],[960,-122],[978,-120],[992,-123],[966,-189],[952,-117],[974,-142],[988,-158],[962,-149],[980,-135],[994,-131],[998,-155],[990,-145],[986,-168],[970,-126],
[951,-96],[955,-90],[958,-102],[962,-93],[966,-86],[969,-99],[973,-91],[977,-105],[980,-88],[984,-97],[987,-84],[991,-101],[994,-92],[998,-87],[959,-112],[975,-110],[989,-113],[972,-81],
[950,-138],[951,-151],[952,-144],[954,-159],[955,-132],[956,-147],[958,-154],[959,-140],[960,-163],[962,-135],[963,-149],[964,-156],[966,-142],[967,-130],[968,-160],[970,-146],[971,-138],[972,-153],[974,-165],[975,-141],[976,-149],[978,-134],[979,-158],[980,-144],[982,-152],[983,-137],[984,-162],[986,-148],[987,-131],[988,-155],[990,-142],[991,-167],[992,-146],[994,-136],[995,-150],[996,-139],[998,-157],[999,-143],[953,-141],[961,-153],[969,-135],[977,-148],[985,-140],[993,-154],[957,-145],[973,-137],[989,-150],[997,-132],[952,-161],[965,-143],[981,-157],[994,-147],[999,-128],[951,-171],[957,-178],[963,-174],[969,-183],[975,-177],[981,-188],[987,-173],[993,-181],[999,-186],[953,-121],[960,-127],[966,-118],[972,-125],[978,-114],[984,-128],[990,-120],[996,-126],[955,-196],[966,-203],[977,-199],[988,-210],[997,-197],
[950,-98],[953,-91],[956,-104],[958,-95],[961,-88],[964,-100],[967,-93],[970,-107],[973,-89],[976,-98],[979,-92],[982,-102],[985,-86],[988,-96],[991,-91],[994,-105],[997,-94],[952,-113],[962,-116],[972,-111],[983,-117],[993,-112],[957,-81],[968,-78],[979,-83],[990,-79],[999,-82],
// ridge, e 0.02-0.36
[20,-90],[22,-94],[23,-87],[25,-83],[26,-99],[27,-92],[29,-85],[30,-89],[32,-97],[33,-81],[35,-91],[36,-86],[37,-102],[39,-94],[40,-88],[41,-83],[43,-96],[44,-90],[45,-85],[47,-100],[48,-89],[49,-93],[50,-87],[52,-97],[53,-91],[55,-86],[56,-101],[57,-84],[59,-89],[60,-96],
[21,-77],[28,-74],[34,-79],[42,-76],[46,-69],[51,-73],[58,-78],[24,-104],[31,-108],[38,-103],[45,-110],[54,-106],[59,-112],
[61,-93],[62,-88],[63,-82],[64,-95],[65,-90],[66,-85],[67,-91],[68,-97],[69,-81],[70,-88],[71,-94],[72,-99],[73,-84],[74,-92],[75,-87],[76,-96],[77,-85],[78,-91],[79,-100],[80,-82],[81,-95],[82,-89],[83,-93],[84,-80],[85,-98],[86,-92],[87,-86],[88,-95],[89,-89],[90,-83],[91,-92],[92,-97],[93,-88],[94,-82],[95,-91],[96,-96],[97,-86],[98,-101],[99,-93],[100,-87],[101,-82],[102,-96],[103,-90],[104,-86],[105,-100],[106,-93],[107,-87],[108,-97],[109,-82],[110,-94],[111,-90],[112,-84],[113,-97],[114,-91],[115,-86],[116,-103],[117,-89],[118,-94],[119,-80],[120,-96],
[63,-74],[67,-79],[71,-71],[75,-77],[79,-75],[83,-72],[87,-78],[91,-73],[95,-76],[99,-71],[103,-79],[107,-75],[111,-72],[115,-77],[119,-74],[65,-107],[70,-111],[76,-105],[82,-110],[88,-104],[94,-113],[100,-108],[106,-105],[112,-112],[118,-107],
[121,-85],[122,-91],[123,-96],[124,-83],[125,-89],[126,-97],[127,-92],[128,-84],[129,-99],[130,-87],[131,-93],[132,-82],[133,-90],[134,-98],[135,-86],[136,-94],[137,-89],[138,-83],[139,-96],[140,-91],[141,-85],[142,-100],[143,-92],[144,-86],[145,-95],[146,-89],[147,-83],[148,-98],[149,-87],[150,-96],[151,-91],[152,-83],[153,-97],[154,-88],[155,-85],[156,-93],[157,-98],[158,-84],[159,-90],[160,-86],[161,-99],[162,-92],[163,-82],[164,-95],[165,-87],[166,-97],[167,-91],[168,-86],[169,-100],[170,-90],[171,-84],[172,-96],[173,-88],[174,-93],[175,-83],[176,-99],[177,-90],[178,-85],[179,-94],[180,-89],
[123,-73],[127,-78],[131,-75],[135,-79],[139,-72],[143,-76],[147,-71],[151,-79],[155,-73],[159,-77],[163,-72],[167,-79],[171,-74],[175,-78],[179,-72],[125,-104],[131,-109],[137,-106],[143,-111],[149,-103],[155,-108],[161,-112],[167,-105],[173,-110],[179,-106],
[181,-92],[182,-86],[183,-99],[184,-83],[185,-90],[186,-95],[187,-88],[188,-94],[189,-82],[190,-97],[191,-89],[192,-85],[193,-100],[194,-92],[195,-87],[196,-83],[197,-94],[198,-90],[199,-85],[200,-98],[201,-89],[202,-94],[203,-87],[204,-84],[205,-91],[206,-99],[207,-86],[208,-92],[209,-81],[210,-96],[211,-90],[212,-85],[213,-97],[214,-92],[215,-86],[216,-83],[217,-94],[218,-99],[219,-88],[220,-95],[221,-83],[222,-91],[223,-87],[224,-98],[225,-89],[226,-84],[227,-95],[228,-91],[229,-86],[230,-93],[231,-84],[232,-100],[233,-89],[234,-94],[235,-82],[236,-91],[237,-96],[238,-86],[239,-92],[240,-88],
[183,-75],[187,-71],[191,-78],[195,-73],[199,-77],[203,-72],[207,-79],[211,-74],[215,-76],[219,-71],[223,-78],[227,-74],[231,-77],[235,-72],[239,-78],[185,-105],[191,-110],[197,-104],[203,-112],[209,-106],[215,-108],[221,-103],[227,-111],[233,-107],[239,-104],
[241,-91],[242,-85],[243,-97],[244,-89],[245,-93],[246,-84],[247,-99],[248,-90],[249,-86],[250,-95],[251,-88],[252,-82],[253,-94],[254,-89],[255,-98],[256,-85],[257,-92],[258,-87],[259,-96],[260,-83],[261,-90],[262,-95],[263,-87],[264,-91],[265,-83],[266,-97],[267,-88],[268,-93],[269,-86],[270,-100],[271,-92],[272,-88],[273,-84],[274,-97],[275,-90],[276,-85],[277,-94],[278,-89],[279,-83],[280,-96],[282,-89],[284,-86],[286,-93],[288,-83],[290,-97],[292,-90],[294,-85],[296,-95],[298,-88],[300,-84],
[243,-76],[248,-72],[253,-78],[258,-74],[263,-71],[268,-77],[273,-73],[278,-79],[283,-74],[288,-76],[293,-72],[298,-78],[245,-106],[252,-111],[259,-104],[266,-108],[273,-112],[280,-105],[287,-103],[294,-109],
[302,-91],[304,-87],[306,-96],[308,-84],[310,-93],[312,-89],[314,-98],[316,-86],[318,-91],[320,-95],[322,-85],[324,-90],[326,-97],[328,-88],[330,-83],[332,-94],[334,-89],[336,-84],[338,-96],[340,-91],[342,-86],[344,-93],[346,-88],[348,-98],[350,-85],[352,-92],[354,-88],[356,-83],[358,-97],[360,-90],
[303,-77],[311,-73],[319,-79],[327,-74],[335,-78],[343,-72],[351,-77],[359,-73],[307,-106],[315,-112],[323,-103],[331,-108],[339,-111],[347,-104],[355,-109],
// ridge edges and core, e 0.03-0.45
[31,-103],[37,-111],[44,-107],[52,-109],[57,-102],[63,-113],[69,-105],[72,-110],[78,-102],[84,-112],[89,-106],[95,-109],[101,-101],[107,-113],[113,-105],[118,-110],[124,-102],[130,-114],[135,-107],[141,-103],[146,-111],[152,-101],[158,-108],[163,-113],[169,-103],[174,-110],[180,-106],[186,-101],[191,-114],[197,-104],[202,-109],[208,-102],[213,-113],[219,-108],[224,-101],[230,-112],[236,-106],[241,-110],[247,-102],[252,-115],[258,-108],[263,-102],[269,-111],[275,-106],[280,-113],[286,-101],[291,-109],[297,-105],[303,-112],[308,-102],[314,-107],[319,-114],[325,-101],[331,-108],[336,-103],[342,-111],[347,-107],[353,-113],[359,-102],[364,-108],[370,-113],[375,-104],[381,-109],[387,-101],[392,-112],[398,-106],[404,-111],[410,-102],[416,-108],[422,-113],[428,-103],[434,-109],[440,-106],[446,-114],
[29,-71],[35,-78],[42,-70],[48,-76],[55,-69],[61,-80],[66,-71],[72,-77],[78,-68],[83,-75],[89,-79],[94,-70],[100,-76],[106,-68],[111,-80],[117,-73],[122,-69],[128,-76],[133,-80],[139,-68],[144,-74],[150,-79],[156,-70],[161,-76],[167,-69],[172,-80],[178,-74],[184,-68],[189,-77],[195,-71],[200,-79],[206,-69],[212,-75],[217,-80],[223,-70],[228,-77],[234,-68],[240,-74],[245,-80],[251,-70],[257,-76],[262,-68],[268,-79],[274,-72],[279,-77],[285,-69],[291,-80],[296,-73],[302,-70],[308,-79],[313,-74],[319,-68],[325,-78],[331,-70],[336,-75],[342,-80],[348,-69],[354,-76],[360,-71],[366,-79],[372,-74],[378,-69],[384,-77],[390,-71],[396,-79],[402,-73],[409,-69],[416,-78],[423,-72],[430,-79],[437,-70],[444,-76],
[60,-84],[62,-93],[65,-87],[68,-83],[70,-96],[73,-91],[75,-82],[78,-95],[81,-86],[83,-97],[86,-84],[88,-90],[91,-96],[93,-83],[96,-89],[99,-98],[102,-88],[104,-93],[107,-84],[110,-98],[112,-89],[115,-95],[117,-83],[120,-86],[123,-92],[125,-98],[128,-86],[131,-95],[133,-84],[136,-98],[138,-88],[141,-91],[143,-96],[146,-83],[148,-93],[151,-88],[154,-96],[156,-84],[159,-94],[162,-87],[164,-91],[167,-84],[170,-95],[172,-89],[175,-97],[178,-84],[180,-93],[183,-88],[186,-97],[188,-90],[191,-84],[194,-95],[196,-87],[199,-93],[202,-99],[204,-88],[207,-96],[210,-86],[212,-90],[215,-84],[218,-96],[220,-89],[223,-93],[226,-85],[228,-98],[231,-91],[234,-85],[236,-97],[239,-89],[242,-93],[244,-86],[247,-95],[250,-84],[253,-90],[256,-93],[258,-84],[261,-97],[264,-88],[267,-95],[270,-85],[272,-92],[275,-87],[278,-96],[280,-90],[283,-86],[286,-99],[289,-87],[292,-94],[295,-85],[298,-91],
// metal-poor shoulder, e 0.06-0.55
[62,-118],[68,-125],[74,-132],[81,-117],[87,-129],[93,-122],[98,-136],[105,-127],[111,-139],[116,-121],[122,-133],[127,-126],[133,-118],[138,-135],[144,-124],[149,-131],[155,-117],[160,-139],[166,-126],[171,-133],[177,-119],[182,-128],[188,-136],[193,-122],[199,-131],[204,-125],[210,-137],[215,-119],[221,-129],[226,-134],[232,-117],[237,-126],[243,-139],[248,-129],[254,-119],[259,-133],[265,-126],[270,-138],[276,-122],[281,-131],[287,-118],[292,-127],[298,-136],[303,-124],[309,-131],[314,-118],[320,-134],[325,-127],[331,-121],[336,-139],[342,-129],[347,-117],[353,-133],[358,-126],[364,-138],[369,-120],[375,-131],[380,-124],[386,-136],[391,-117],[397,-128],[402,-135],[408,-121],[413,-130],[419,-139],[424,-126],[430,-118],[435,-132],[441,-123],[446,-137],[452,-119],[457,-131],[463,-127],[468,-139],[474,-121],[479,-133],[485,-125],[490,-136],[496,-120],
[65,-145],[76,-152],[86,-143],[97,-158],[108,-146],[118,-153],[129,-141],[139,-157],[150,-148],[160,-144],[171,-155],[181,-142],[192,-149],[202,-158],[213,-145],[223,-151],[234,-143],[244,-156],[255,-147],[265,-141],[276,-154],[286,-149],[297,-142],[307,-158],[318,-147],[328,-153],[339,-141],[349,-156],[360,-148],[370,-143],[381,-155],[391,-147],[402,-141],[412,-157],[423,-149],[433,-144],[444,-155],[454,-146],[465,-142],[475,-153],[486,-148],[496,-141],
[70,-165],[89,-172],[108,-168],[127,-163],[146,-175],[165,-166],[184,-171],[203,-164],[222,-177],[241,-168],[260,-173],[279,-162],[298,-176],[317,-167],[336,-172],[355,-164],[374,-178],[393,-169],[412,-174],[431,-165],[450,-177],[469,-168],[488,-173],
[103,-131],[109,-144],[114,-126],[120,-152],[125,-140],[131,-163],[136,-128],[142,-147],[147,-135],[153,-159],[158,-122],[164,-142],[169,-170],[175,-130],[180,-154],[186,-137],[191,-121],[197,-148],[202,-137],[208,-129],[213,-156],[219,-143],[224,-121],[230,-151],[235,-165],[241,-130],[246,-146],[252,-137],[257,-124],[263,-158],[268,-142],[274,-133],[279,-168],[285,-151],[290,-122],[296,-144],[301,-139],[307,-127],[312,-161],[318,-135],[323,-149],[329,-122],[334,-158],[340,-133],[345,-167],[351,-143],[356,-121],[362,-152],[367,-137],[373,-163],[378,-129],[384,-148],[389,-140],[395,-122],[400,-159],[406,-136],[411,-150],[417,-125],[422,-166],[428,-140],[433,-131],[439,-158],[444,-123],[450,-148],[455,-135],[461,-162],[466,-128],[472,-151],[477,-140],[483,-122],[488,-165],[494,-137],[499,-148],[505,-131],[510,-156],[516,-124],[521,-143],[527,-161],[532,-135],[538,-150],[543,-127],[549,-168],
[106,-179],[119,-186],[132,-174],[145,-190],[158,-181],[171,-176],[184,-189],[197,-178],[210,-185],[223,-174],[236,-191],[249,-180],[262,-187],[275,-176],[288,-192],[301,-182],[314,-175],[327,-189],[340,-179],[353,-186],[366,-174],[379,-191],[392,-181],[405,-188],[418,-176],[431,-192],[444,-182],[457,-175],[470,-189],[483,-179],[496,-186],[509,-176],[522,-191],[535,-181],[548,-188],
[112,-116],[127,-119],[141,-114],[156,-118],[170,-115],[185,-120],[199,-116],[214,-119],[228,-114],[243,-118],[257,-115],[272,-120],[286,-116],[301,-118],[315,-114],[330,-119],[344,-115],[359,-117],[373,-120],[388,-114],[402,-118],[417,-116],[431,-119],[446,-114],[460,-118],[475,-116],[489,-120],[504,-115],[518,-118],[533,-114],[547,-119],
// e 0.50-0.80 fill
[552,-111],[557,-118],[563,-126],[568,-133],[574,-141],[579,-115],[585,-122],[590,-137],[596,-129],[601,-118],[607,-145],[612,-126],[618,-133],[623,-114],[629,-139],[634,-121],[640,-131],[645,-117],[651,-143],[656,-124],[662,-136],[667,-113],[673,-129],[678,-141],[684,-118],[689,-134],[695,-123],[700,-146],[706,-116],[711,-131],[717,-139],[722,-121],[728,-135],[733,-113],[739,-127],[744,-143],[750,-119],[755,-133],[761,-141],[766,-116],[772,-129],[777,-137],[783,-122],[788,-144],[794,-118],[799,-131],
[554,-152],[566,-164],[578,-158],[590,-171],[602,-155],[614,-167],[626,-160],[638,-173],[650,-157],[662,-166],[674,-153],[686,-170],[698,-162],[710,-156],[722,-174],[734,-161],[746,-168],[758,-154],[770,-165],[782,-171],[794,-158],
[556,-95],[571,-89],[586,-100],[601,-92],[616,-87],[631,-97],[646,-91],[661,-86],[676,-101],[691,-93],[706,-88],[721,-99],[736,-92],[751,-87],[766,-96],[781,-90],[796,-102],
[503,-113],[509,-137],[514,-152],[520,-119],[526,-144],[531,-128],[537,-165],[542,-133],[548,-147],[553,-124],[559,-159],[565,-136],[570,-118],[576,-151],[581,-141],[587,-127],[592,-162],[598,-134],[603,-147],[609,-121],[614,-156],[620,-139],[625,-125],[631,-167],[636,-144],[642,-119],[647,-153],[653,-131],[658,-146],[664,-122],[669,-160],[675,-137],[680,-149],[686,-126],[691,-158],[697,-140],[702,-119],[708,-152],[713,-133],[719,-164],[724,-145],[730,-124],[735,-156],[741,-136],[746,-148],[752,-122],[757,-160],[763,-139],[768,-151],[774,-127],[779,-163],[785,-143],[790,-131],[796,-155],
[506,-183],[519,-190],[532,-177],[545,-195],[558,-186],[571,-179],[584,-193],[597,-182],[610,-188],[623,-177],[636,-194],[649,-184],[662,-190],[675,-178],[688,-196],[701,-185],[714,-180],[727,-192],[740,-183],[753,-189],[766,-178],[779,-195],[792,-185],
[508,-99],[521,-93],[534,-103],[547,-96],[560,-101],[573,-94],[586,-104],[599,-97],[612,-102],[625,-93],[638,-105],[651,-98],[664,-101],[677,-94],[690,-104],[703,-97],[716,-102],[729,-95],[742,-104],[755,-98],[768,-103],[781,-94],[794,-100],
[512,-84],[535,-79],[558,-86],[581,-80],[604,-85],[627,-81],[650,-87],[673,-80],[696,-86],[719,-81],[742,-87],[765,-80],[788,-85],
// high-e core, e 0.80-1.00
[801,-142],[804,-137],[806,-149],[809,-133],[811,-156],[814,-141],[816,-147],[819,-138],[821,-152],[824,-130],[826,-145],[829,-157],[831,-139],[834,-148],[836,-134],[839,-143],[841,-151],[844,-137],[846,-159],[849,-146],[851,-140],[854,-135],[856,-152],[859,-146],[861,-131],[864,-141],[866,-158],[869,-144],[871,-137],[874,-149],[876,-133],[879,-155],[881,-143],[884,-138],[886,-150],[889,-132],[891,-147],[894,-156],[896,-139],[899,-145],[901,-141],[903,-155],[905,-136],[907,-149],[909,-143],[911,-158],[913,-138],[915,-151],[917,-134],[919,-146],[921,-160],[923,-141],[925,-153],[927,-137],[929,-148],[931,-131],[933,-144],[935,-157],[937,-140],[939,-152],[941,-136],[943,-147],[945,-159],[947,-143],[949,-134],[951,-150],[953,-138],[955,-155],[957,-146],[959,-132],[961,-158],[963,-141],[965,-152],[967,-136],[969,-149],[971,-144],[973,-157],[975,-139],[977,-153],[979,-133],[981,-147],[983,-161],[985,-142],[987,-154],[989,-137],[991,-150],[993,-145],[995,-159],[997,-140],[999,-152],
[803,-165],[812,-121],[820,-172],[828,-127],[837,-167],[845,-119],[853,-174],[862,-125],[870,-166],[879,-122],[887,-178],[896,-128],[904,-169],[913,-124],[921,-175],[930,-126],[938,-170],[947,-120],[955,-176],[964,-127],[972,-168],[981,-123],[989,-179],[998,-125],
[806,-104],[818,-97],[830,-108],[842,-93],[854,-106],[866,-99],[878,-110],[890,-95],[902,-105],[914,-98],[926,-109],[938,-94],[950,-107],[962,-99],[974,-111],[986,-96],[998,-104],
[808,-185],[826,-192],[844,-188],[862,-196],[880,-186],[898,-193],[916,-189],[934,-197],[952,-187],[970,-194],[988,-190],
[800,-127],[805,-139],[810,-151],[815,-134],[820,-146],[825,-158],[830,-129],[835,-143],[840,-161],[845,-136],[850,-149],[855,-127],[860,-141],[865,-156],[870,-133],[875,-146],[880,-162],[885,-137],[890,-152],[895,-129],[900,-144],[905,-165],[910,-138],[915,-150],[920,-131],[925,-145],[930,-161],[935,-135],[940,-154],[945,-128],[950,-147],[955,-168],[960,-138],[965,-151],[970,-133],[975,-157],[980,-144],[985,-131],[990,-163],[995,-148],[1000,-137],
[802,-154],[807,-144],[812,-133],[817,-161],[822,-140],[827,-151],[832,-137],[837,-158],[842,-131],[847,-148],[852,-162],[857,-139],[862,-152],[867,-129],[872,-146],[877,-160],[882,-135],[887,-149],[892,-141],[897,-158],[902,-132],[907,-151],[912,-143],[917,-163],[922,-137],[927,-155],[932,-146],[937,-131],[942,-160],[947,-139],[952,-152],[957,-134],[962,-158],[967,-145],[972,-137],[977,-163],[982,-141],[987,-156],[992,-133],[997,-149],
[804,-171],[816,-114],[828,-177],[840,-118],[852,-183],[864,-112],[876,-179],[888,-116],[900,-174],[912,-113],[924,-181],[936,-118],[948,-176],[960,-115],[972,-184],[984,-117],[996,-178],
[810,-100],[834,-92],[858,-104],[882,-96],[906,-101],[930,-93],[954,-106],[978,-97],[998,-100]
];

// axis ticks and labels
const xMajor = [0.0, 0.2, 0.4, 0.6, 0.8, 1.0];
const xMinor = [0.05, 0.1, 0.15, 0.25, 0.3, 0.35, 0.45, 0.5, 0.55, 0.65, 0.7, 0.75, 0.85, 0.9, 0.95];
const xLabels = ['0.0', '0.2', '0.4', '0.6', '0.8', '1.0'];
const yMajor = [-3.5, -3.0, -2.5, -2.0, -1.5, -1.0, -0.5, 0.0];
const yMinor = [-3.4, -3.3, -3.2, -3.1, -2.9, -2.8, -2.7, -2.6, -2.4, -2.3, -2.2, -2.1, -1.9, -1.8, -1.7, -1.6,
                -1.4, -1.3, -1.2, -1.1, -0.9, -0.8, -0.7, -0.6, -0.4, -0.3, -0.2, -0.1];
const yLabels = ['\u22123.5', '\u22123.0', '\u22122.5', '\u22122.0', '\u22121.5', '\u22121.0', '\u22120.5', '0.0'];
const xTitle = 'Orbital Eccentricity';
const yTitle = '[Fe/H]';

// inset (ELS figure 4): [e x1000, delta(U-B) x1000]
const insetFilled = [
[50,96],[49,84],[183,96],[180,84],[139,84],[250,95],[271,95],[289,95],[301,84],[351,85],[370,84],
[32,73],[52,73],[72,73],[92,73],[32,61],[106,62],[118,62],[128,71],[170,73],[161,61],[187,62],[198,59],[212,62],[225,73],[215,72],
[254,59],[271,62],[282,64],[309,61],[296,56],[69,50],[128,49],[141,49],[173,47],[187,52],[198,49],[225,52],[244,54],
[27,37],[44,37],[62,36],[82,34],[103,37],[118,36],[148,39],[163,37],[180,37],[195,41],[254,37],[282,37],[323,37],[271,26],[289,26],[358,25],
[131,26],[187,24],[198,24],[212,24],[128,13],[141,13],[163,13],[240,12],[309,13],[30,10],[30,0],[66,11],[72,2],[86,1],[82,-11],[200,2],
[176,-9],[192,-9],[222,-9],[121,-24],[170,-25],[225,-23],[313,-23],[62,-35],[153,-34],[242,-34]
];
const insetOpen = [[323,85],[277,71],[353,72],[402,74],[415,74],[340,48],[262,48],[321,25]];
const insetXTicks = [0.2, 0.4, 0.6];
const insetXLabels = ['0', '0.2', '0.4', '0.6'];

function idlText(ctx, s, x, y) {
  ctx.fillText(s, x, y);
  ctx.strokeText(s, x, y);
}

const idlFrame = {
  id: 'idlFrame',
  afterDatasetsDraw(chart) {
    const { ctx, chartArea: a, scales: { x, y } } = chart;
    ctx.save();
    ctx.strokeStyle = '#1c1c1c';
    ctx.lineWidth = 2.6;
    ctx.strokeRect(a.left, a.top, a.right - a.left, a.bottom - a.top);
    ctx.lineWidth = 2.2;
    ctx.beginPath();
    const xt = (v, len) => {
      const p = x.getPixelForValue(v);
      ctx.moveTo(p, a.bottom); ctx.lineTo(p, a.bottom - len);
      ctx.moveTo(p, a.top); ctx.lineTo(p, a.top + len);
    };
    const yt = (v, len) => {
      const p = y.getPixelForValue(v);
      ctx.moveTo(a.left, p); ctx.lineTo(a.left + len, p);
      ctx.moveTo(a.right, p); ctx.lineTo(a.right - len, p);
    };
    xMajor.forEach(v => xt(v, 18));
    xMinor.forEach(v => xt(v, 9));
    yMajor.forEach(v => yt(v, 27));
    yMinor.forEach(v => yt(v, 14));
    ctx.stroke();

    ctx.fillStyle = '#111';
    ctx.strokeStyle = '#111';
    ctx.lineWidth = 0.9;
    ctx.font = '200 40px "DejaVu Sans", "Liberation Sans", sans-serif';
    ctx.textAlign = 'center';
    ctx.textBaseline = 'middle';
    xMajor.forEach((v, i) => idlText(ctx, xLabels[i], x.getPixelForValue(v), a.bottom + 52));
    ctx.textAlign = 'right';
    yMajor.forEach((v, i) => {
      let p = y.getPixelForValue(v) + 4;
      if (i === 0) p += 16;
      if (i === yMajor.length - 1) p -= 13;
      idlText(ctx, yLabels[i], a.left - 15, p);
    });
    ctx.font = '200 41px "DejaVu Sans", "Liberation Sans", sans-serif';
    ctx.textAlign = 'center';
    idlText(ctx, xTitle, (a.left + a.right) / 2, a.bottom + 104);
    ctx.translate(38, (a.top + a.bottom) / 2);
    ctx.rotate(-Math.PI / 2);
    ctx.font = '200 43px "DejaVu Sans", "Liberation Sans", sans-serif';
    idlText(ctx, yTitle, 0, 0);
    ctx.restore();
  }
};

new Chart(document.getElementById('main'), {
  type: 'scatter',
  data: {
    datasets: [{
      data: stars.map(s => ({ x: s[0] / 1000, y: s[1] / 100 })),
      pointRadius: 3.1,
      pointBackgroundColor: '#141414',
      pointBorderWidth: 0,
      clip: 0
    }]
  },
  options: {
    responsive: false,
    animation: false,
    events: [],
    layout: { padding: { left: 203, right: 38, top: 10, bottom: 124 } },
    scales: {
      x: { type: 'linear', display: false, min: 0, max: 1 },
      y: { type: 'linear', display: false, min: -3.5, max: 0, reverse: true }
    },
    plugins: { legend: { display: false }, tooltip: { enabled: false } }
  },
  plugins: [idlFrame]
});

const insetAxes = {
  id: 'insetAxes',
  afterDatasetsDraw(chart) {
    const { ctx, chartArea: a, scales: { x, y } } = chart;
    ctx.save();
    ctx.strokeStyle = '#111';
    ctx.lineWidth = 3;
    ctx.beginPath();
    ctx.moveTo(a.left, a.top); ctx.lineTo(a.left, a.bottom); ctx.lineTo(a.right, a.bottom);
    ctx.stroke();
    ctx.lineWidth = 2.4;
    ctx.beginPath();
    insetXTicks.forEach(v => {
      const p = x.getPixelForValue(v);
      ctx.moveTo(p, a.bottom); ctx.lineTo(p, a.bottom - 18);
    });
    const p0 = y.getPixelForValue(0);
    ctx.moveTo(a.left, p0); ctx.lineTo(a.left + 13, p0);
    ctx.stroke();
    ctx.fillStyle = '#111';
    ctx.font = '23px "Liberation Sans", Arial, sans-serif';
    ctx.textAlign = 'center';
    ctx.textBaseline = 'middle';
    [0].concat(insetXTicks).forEach((v, i) => ctx.fillText(insetXLabels[i], x.getPixelForValue(v), a.bottom + 24));
    ctx.fillText('0', a.left - 20, p0);
    ctx.font = '40px "Liberation Sans", Arial, sans-serif';
    ctx.fillText('e', x.getPixelForValue(0.509), a.bottom + 62);
    ctx.restore();
  }
};

new Chart(document.getElementById('insetChart'), {
  type: 'scatter',
  data: {
    datasets: [{
      data: insetFilled.map(s => ({ x: s[0] / 1000, y: s[1] / 1000 })),
      pointRadius: 5.5,
      pointBackgroundColor: '#111',
      pointBorderWidth: 0
    }, {
      data: insetOpen.map(s => ({ x: s[0] / 1000, y: s[1] / 1000 })),
      pointRadius: 4.5,
      pointBackgroundColor: '#fff',
      pointBorderColor: '#111',
      pointBorderWidth: 2.2
    }]
  },
  options: {
    responsive: false,
    animation: false,
    events: [],
    layout: { padding: { left: 159, right: 0, top: 0, bottom: 156 } },
    scales: {
      x: { type: 'linear', display: false, min: 0, max: 0.748 },
      y: { type: 'linear', display: false, min: -0.058, max: 0.099 }
    },
    plugins: { legend: { display: false }, tooltip: { enabled: false } }
  },
  plugins: [insetAxes]
});
</script>
</body>
</html>
